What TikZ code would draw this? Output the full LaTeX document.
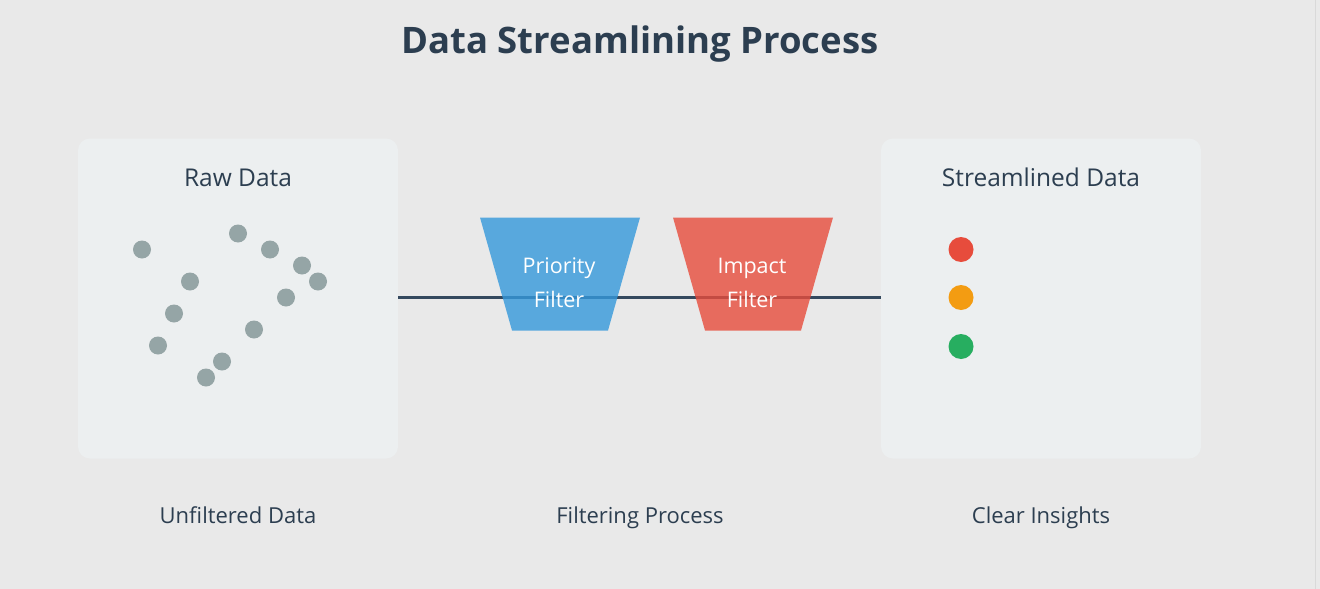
\documentclass[tikz,border=0pt]{standalone}
\usepackage{fontspec}
\setmainfont{Open Sans}
\definecolor{bg}{HTML}{E9E9E9}
\definecolor{boxc}{HTML}{ECEFF0}
\definecolor{dark}{HTML}{2C3E50}
\definecolor{linec}{HTML}{34495E}
\definecolor{dotc}{HTML}{95A5A6}
\definecolor{blu}{HTML}{3498DB}
\definecolor{rd}{HTML}{E74C3C}
\definecolor{org}{HTML}{F39C12}
\definecolor{grn}{HTML}{27AE60}
\tikzset{
 panel/.style={fill=boxc,rounded corners=12pt},
 lbl/.style={text=dark,font=\fontsize{22}{26}\selectfont},
 hdr/.style={text=dark,font=\fontsize{24.5}{28}\selectfont},
 dot/.style={circle,fill=dotc,minimum size=18pt,inner sep=0pt},
 ftxt/.style={text=white,font=\fontsize{21.5}{25}\selectfont}
}
\begin{document}
\begin{tikzpicture}[x=1pt,y=-1pt]
\fill[bg] (0,0) rectangle (1320,588);
\draw[line width=1pt,color=black!15] (1315,0) -- (1315,588);
\node[text=dark,font=\fontsize{36.5}{40}\selectfont\bfseries] (title) at (640,44) {Data Streamlining Process};
\fill[panel] (78,138) rectangle (398,458);
\fill[panel] (881,138) rectangle (1201,458);
\coordinate (ls) at (398,297);
\coordinate (le) at (881,297);
\node[hdr] (raw) at (238,177) {Raw Data};
\node[hdr] (str) at (1041,177) {Streamlined Data};
\foreach \x/\y [count=\i] in {142/249,238/233,270/249,302/265,318/281,190/281,286/297,174/313,254/329,158/345,222/361,206/377}
  \node[dot] (d\i) at (\x,\y) {};
\draw[linec,line width=3pt] (ls) -- (le);
\fill[blu,opacity=0.8] (480,217) -- (640,217) -- (608,330) -- (512,330) -- cycle;
\fill[rd,opacity=0.8] (673,217) -- (833,217) -- (801,330) -- (705,330) -- cycle;
\node[ftxt] (p1) at (559,268) {Priority};
\node[ftxt] (p2) at (559,299) {Filter};
\node[ftxt] (i1) at (752,268) {Impact};
\node[ftxt] (i2) at (752,299) {Filter};
\node[circle,fill=rd,minimum size=25pt,inner sep=0pt] (o1) at (961,249) {};
\node[circle,fill=org,minimum size=25pt,inner sep=0pt] (o2) at (961,297) {};
\node[circle,fill=grn,minimum size=25pt,inner sep=0pt] (o3) at (961,346) {};
\node[lbl,anchor=base] (b1) at (238,523) {Unfiltered Data};
\node[lbl,anchor=base] (b2) at (640,523) {Filtering Process};
\node[lbl,anchor=base] (b3) at (1041,523) {Clear Insights};
\end{tikzpicture}
\end{document}
